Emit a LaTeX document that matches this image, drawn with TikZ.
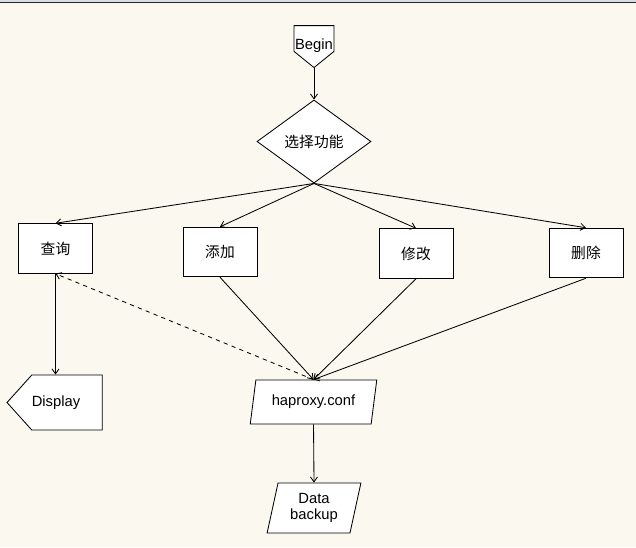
\documentclass[tikz,border=0pt]{standalone}
\usepackage{fontspec}
\setmainfont{Liberation Sans}
\newfontfamily\cjk{Noto Sans CJK SC}
\usetikzlibrary{arrows.meta,shapes.geometric,shapes.symbols}
\definecolor{paper}{HTML}{FBF8EF}
\definecolor{topband}{HTML}{D8DDE6}
\tikzset{
  base/.style={draw,fill=white,line width=0.6pt,inner sep=0pt,align=center,
    font=\fontsize{10.5}{12}\selectfont},
  procbox/.style={base,rectangle,minimum width=1.85cm,minimum height=1.24cm,
    font=\cjk\fontsize{10.5}{12}\selectfont},
  iobox/.style={base,trapezium,trapezium stretches=true},
  flow/.style={->,line width=0.6pt}
}
\begin{document}
\begin{tikzpicture}[x=0.025cm,y=-0.025cm,>={Straight Barb[length=3.5pt,width=5pt]}]
% 画布与顶部边线
\useasboundingbox (0,0) rectangle (636,547);
\fill[paper] (0,0) rectangle (636,547);
\fill[topband] (0,0) rectangle (636,2);
\draw[line width=0.7pt,black!85] (0,2.5) -- (636,2.5);
% 开始与选择
\node[base,signal,signal to=south,signal from=nowhere,signal pointer angle=102,
  minimum width=1cm,minimum height=1.025cm] (begin) at (314,38.5)
  {\raisebox{-0.28cm}[0pt][0pt]{Begin}};
\node[base,diamond,minimum width=2.85cm,minimum height=2.075cm,
  font=\cjk\fontsize{10.5}{12}\selectfont] (choose) at (314,141.5) {选择功能};
% 四个功能
\node[procbox] (query) at (55.5,248.5) {查询};
\node[procbox] (add) at (220,252) {添加};
\node[procbox] (modify) at (416,253.5) {修改};
\node[procbox] (delete) at (586,253) {删除};
% 输出与文件
\node[base,signal,signal to=west,signal from=nowhere,signal pointer angle=96,
  minimum width=2.375cm,minimum height=1.375cm] (display) at (67,402.5)
  {Display\hspace{0.55cm}};
\node[iobox,trapezium left angle=73.5,trapezium right angle=106.5,
  minimum width=3.175cm,minimum height=1.1cm] (conf) at (313.5,402) {haproxy.conf};
\node[iobox,trapezium left angle=76.5,trapezium right angle=103.5,
  minimum width=2.35cm,minimum height=1.25cm] (backup) at (314,508) {Data\\backup};
% 连线
\draw[flow] (begin.south) -- (choose.north);
\foreach \t in {query,add,modify,delete}
  \draw[flow] (choose.south) -- (\t.north);
\draw[flow] (query.south) -- (display.north -| query.south);
\foreach \s in {add,modify,delete}
  \draw[flow] (\s.south) -- (conf.north);
\draw[flow,dashed] (conf.north) -- (query.south);
\draw[flow] (conf.south) -- (backup.north);
\end{tikzpicture}
\end{document}
